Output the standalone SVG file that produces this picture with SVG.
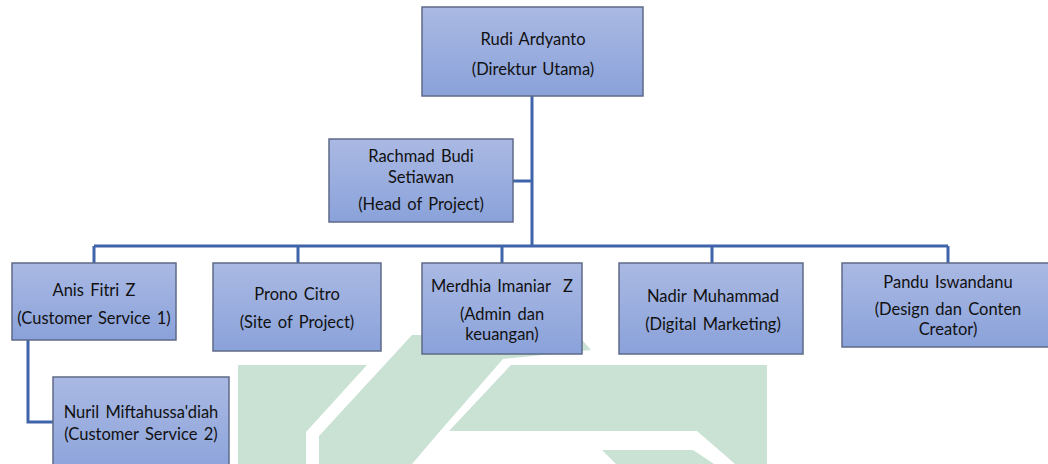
<svg xmlns="http://www.w3.org/2000/svg" width="1048" height="464" viewBox="0 0 1048 464">
  <defs>
    <linearGradient id="boxFill" x1="0" y1="0" x2="0" y2="1">
      <stop offset="0" stop-color="#aab9e3"/>
      <stop offset="1" stop-color="#8aa2da"/>
    </linearGradient>
    <style>
      .box { fill: url(#boxFill); stroke: #5d6a88; stroke-width: 1.5; }
      .lbl { font-family: Lato, "Liberation Sans", sans-serif; font-size: 16.5px; fill: #111; text-anchor: middle; word-spacing: 2px; white-space: pre; }
      .conn { fill: none; stroke: #3f64aa; stroke-width: 3; }
      .wm { fill: #cae2d4; }
    </style>
  </defs>
  <rect width="1048" height="464" fill="#ffffff"/>

  <g id="watermark">
    <polygon class="wm" points="238,365 367,365 306,432 306,464 238,464"/>
    <polygon class="wm" points="412,335 578,335 591,350 503,359 441,430 412,464 319,464 319,436"/>
    <polygon class="wm" points="511,365 767,365 767,464 735,464 697,431 449,431"/>
    <polygon class="wm" points="602,450 693,450 714,464 616,464"/>
  </g>

  <g id="connectors">
    <path class="conn" d="M532,96 V246"/>
    <path class="conn" d="M513,181 H532"/>
    <path class="conn" d="M94,246 H948"/>
    <path class="conn" d="M94,246 V263"/>
    <path class="conn" d="M298,246 V263"/>
    <path class="conn" d="M502,246 V263"/>
    <path class="conn" d="M712,246 V263"/>
    <path class="conn" d="M948,246 V263"/>
    <path class="conn" d="M28,340 V422 H53"/>
  </g>

  <g id="rudi">
    <rect class="box" x="422" y="7" width="221" height="89"/>
    <text class="lbl" x="533" y="45">Rudi Ardyanto</text>
    <text class="lbl" x="533" y="75">(Direktur Utama)</text>
  </g>
  <g id="rachmad">
    <rect class="box" x="329" y="139" width="184" height="83"/>
    <text class="lbl" x="421" y="162">Rachmad Budi</text>
    <text class="lbl" x="421" y="183">Setiawan</text>
    <text class="lbl" x="421" y="210">(Head of Project)</text>
  </g>
  <g id="anis">
    <rect class="box" x="12" y="263" width="164" height="77"/>
    <text class="lbl" x="94" y="296">Anis Fitri Z</text>
    <text class="lbl" x="94" y="324">(Customer Service 1)</text>
  </g>
  <g id="prono">
    <rect class="box" x="213" y="263" width="168" height="88"/>
    <text class="lbl" x="297" y="300">Prono Citro</text>
    <text class="lbl" x="297" y="328">(Site of Project)</text>
  </g>
  <g id="merdhia">
    <rect class="box" x="422" y="263" width="160" height="91"/>
    <text class="lbl" x="502" y="292">Merdhia Imaniar  Z</text>
    <text class="lbl" x="502" y="320">(Admin dan</text>
    <text class="lbl" x="502" y="340">keuangan)</text>
  </g>
  <g id="nadir">
    <rect class="box" x="619" y="263" width="184" height="91"/>
    <text class="lbl" x="713" y="302">Nadir Muhammad</text>
    <text class="lbl" x="713" y="330">(Digital Marketing)</text>
  </g>
  <g id="pandu">
    <rect class="box" x="842" y="263" width="212" height="84"/>
    <text class="lbl" x="948" y="288">Pandu Iswandanu</text>
    <text class="lbl" x="948" y="315">(Design dan Conten</text>
    <text class="lbl" x="948" y="335">Creator)</text>
  </g>
  <g id="nuril">
    <rect class="box" x="53" y="377" width="176" height="100"/>
    <text class="lbl" x="141" y="418">Nuril Miftahussa'diah</text>
    <text class="lbl" x="141" y="440">(Customer Service 2)</text>
  </g>
</svg>
